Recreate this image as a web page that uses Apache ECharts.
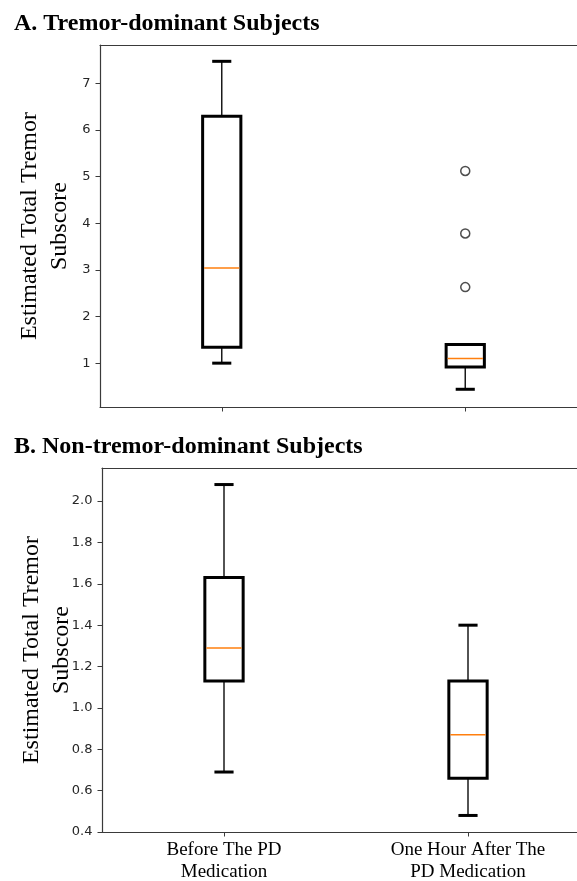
<!DOCTYPE html>
<html>
<head>
<meta charset="utf-8">
<script src="https://cdn.jsdelivr.net/npm/echarts@6/dist/echarts.min.js"></script>
<style>
html,body{margin:0;padding:0;background:#fff;}
#chart{width:577px;height:881px;}
</style>
</head>
<body>
<div id="chart"></div>
<script>
// ---- data ----
const categories = ['Before The PD\nMedication', 'One Hour After The\nPD Medication'];
// [lowerWhisker, Q1, median, Q3, upperWhisker]
const tremorStats = [
  [1.00, 1.34, 3.04, 6.29, 7.47],
  [0.44, 0.92, 1.10, 1.40, 1.40]
];
const tremorOutliers = [[1, 2.63], [1, 3.78], [1, 5.12]];
const nonTremorStats = [
  [0.69, 1.13, 1.29, 1.63, 2.08],
  [0.48, 0.66, 0.87, 1.13, 1.40]
];
const nonTremorOutliers = [];
const tremorTicks = [1, 2, 3, 4, 5, 6, 7];
const nonTremorTicks = [0.4, 0.6, 0.8, 1.0, 1.2, 1.4, 1.6, 1.8, 2.0];
const titleA = 'A. Tremor-dominant Subjects';
const titleB = 'B. Non-tremor-dominant Subjects';
const yName = 'Estimated Total Tremor\nSubscore';

// ---- rendering ----
const chart = echarts.init(document.getElementById('chart'), null, {renderer: 'canvas'});

function renderBox(params, api) {
  const x = api.value(0);
  const lo = api.coord([x, api.value(1)]);
  const q1 = api.coord([x, api.value(2)]);
  const med = api.coord([x, api.value(3)]);
  const q3 = api.coord([x, api.value(4)]);
  const hi = api.coord([x, api.value(5)]);
  const band = api.size([1, 0])[0];
  const bw = band * 0.157;
  const cw = bw / 2;
  const cx = lo[0];
  const thin = {stroke: '#1a1a1a', lineWidth: 1.5};
  const thick = {stroke: '#000', lineWidth: 3};
  return {
    type: 'group',
    children: [
      {type: 'line', shape: {x1: cx, y1: q1[1], x2: cx, y2: lo[1]}, style: thin},
      {type: 'line', shape: {x1: cx, y1: q3[1], x2: cx, y2: hi[1]}, style: thin},
      {type: 'line', shape: {x1: cx - cw / 2, y1: lo[1], x2: cx + cw / 2, y2: lo[1]}, style: thick},
      {type: 'line', shape: {x1: cx - cw / 2, y1: hi[1], x2: cx + cw / 2, y2: hi[1]}, style: thick},
      {type: 'rect', shape: {x: cx - bw / 2, y: q3[1], width: bw, height: q1[1] - q3[1]},
        style: {fill: '#fff', stroke: '#000', lineWidth: 3}},
      {type: 'line', shape: {x1: cx - bw / 2 + 1.5, y1: med[1], x2: cx + bw / 2 - 1.5, y2: med[1]},
        style: {stroke: '#ff7f0e', lineWidth: 1.5}}
    ]
  };
}

const tickFont = {fontFamily: 'DejaVu Sans', fontSize: 13, color: '#262626'};
const axisLine = {show: true, lineStyle: {color: '#3a3a3a', width: 1.2}};

function yAxisCfg(gi, min, max, ticks, fmt) {
  return {
    type: 'value', gridIndex: gi, min: min, max: max,
    splitLine: {show: false},
    axisLine: axisLine,
    axisTick: {show: true, length: 4.5, lineStyle: {color: '#3a3a3a', width: 1}, customValues: ticks},
    axisLabel: Object.assign({margin: 9.5, customValues: ticks, formatter: fmt}, tickFont),
    name: yName, nameLocation: 'middle', nameRotate: 90, nameGap: 25, nameMoveOverlap: false,
    nameTextStyle: {fontFamily: 'Liberation Serif', fontSize: 24, color: '#000', lineHeight: 30}
  };
}

const titleStyle = {fontFamily: 'Liberation Serif', fontWeight: 'bold', fontSize: 24, color: '#000'};

const option = {
  backgroundColor: '#fff',
  animation: false,
  title: [
    {text: titleA, left: 14, top: 12, padding: 0, textStyle: titleStyle},
    {text: titleB, left: 14, top: 435, padding: 0, textStyle: titleStyle}
  ],
  grid: [
    {left: 100, top: 45, width: 487, height: 362, outerBoundsMode: 'none', containLabel: false},
    {left: 102, top: 468, width: 488, height: 364, outerBoundsMode: 'none', containLabel: false}
  ],
  xAxis: [
    {type: 'category', gridIndex: 0, data: categories, position: 'bottom',
      axisLine: axisLine, axisTick: {show: true, alignWithLabel: true, length: 4.5, lineStyle: {color: '#3a3a3a'}},
      axisLabel: {show: false}, splitLine: {show: false}},
    {type: 'category', gridIndex: 0, data: categories, position: 'top',
      axisLine: axisLine, axisTick: {show: false}, axisLabel: {show: false}, splitLine: {show: false}},
    {type: 'category', gridIndex: 1, data: categories, position: 'bottom',
      axisLine: axisLine, axisTick: {show: true, alignWithLabel: true, length: 4.5, lineStyle: {color: '#3a3a3a'}},
      axisLabel: {show: true, interval: 0, margin: 7, fontFamily: 'Liberation Serif', fontSize: 19, color: '#000', lineHeight: 22},
      splitLine: {show: false}},
    {type: 'category', gridIndex: 1, data: categories, position: 'top',
      axisLine: axisLine, axisTick: {show: false}, axisLabel: {show: false}, splitLine: {show: false}}
  ],
  yAxis: [
    yAxisCfg(0, 0.06, 7.82, tremorTicks, v => String(v)),
    yAxisCfg(1, 0.4, 2.16, nonTremorTicks, v => v.toFixed(1))
  ],
  series: [
    {type: 'custom', xAxisIndex: 0, yAxisIndex: 0, renderItem: renderBox,
      encode: {x: 0, y: [1, 2, 3, 4, 5]},
      data: tremorStats.map((s, i) => [i].concat(s))},
    {type: 'scatter', xAxisIndex: 0, yAxisIndex: 0, data: tremorOutliers,
      symbol: 'circle', symbolSize: 9,
      itemStyle: {color: '#fff', borderColor: '#222', borderWidth: 1.5}},
    {type: 'custom', xAxisIndex: 2, yAxisIndex: 1, renderItem: renderBox,
      encode: {x: 0, y: [1, 2, 3, 4, 5]},
      data: nonTremorStats.map((s, i) => [i].concat(s))},
    {type: 'scatter', xAxisIndex: 2, yAxisIndex: 1, data: nonTremorOutliers,
      symbol: 'circle', symbolSize: 9,
      itemStyle: {color: '#fff', borderColor: '#222', borderWidth: 1.5}}
  ]
};
chart.setOption(option);
</script>
</body>
</html>
